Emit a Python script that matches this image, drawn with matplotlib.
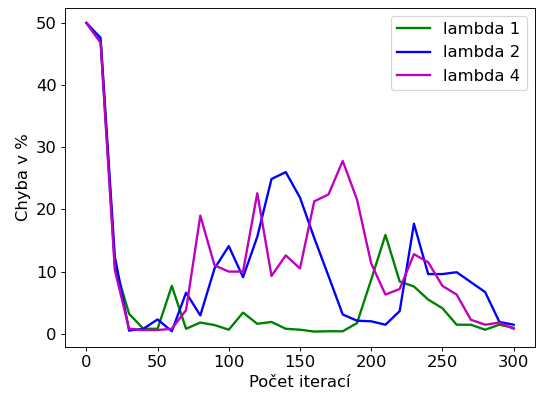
import numpy as np
import matplotlib
matplotlib.use("Agg")
import matplotlib.pyplot as plt

iterations = list(range(0, 301, 10))

lambda_1 = [50.0, 47.0, 11.0, 3.2, 0.8, 0.8, 7.7, 0.8, 1.8, 1.4, 0.65,
            3.4, 1.6, 1.9, 0.8, 0.65, 0.35, 0.4, 0.4, 1.7, 8.7,
            15.9, 8.4, 7.6, 5.5, 4.1, 1.45, 1.45, 0.65, 1.45, 0.95]

lambda_2 = [50.0, 47.6, 12.4, 0.5, 0.8, 2.3, 0.4, 6.6, 2.95, 10.5, 14.1,
            9.1, 15.6, 24.9, 26.0, 21.9, 15.4, 9.3, 3.1, 2.1, 2.0,
            1.45, 3.65, 17.7, 9.6, 9.6, 9.9, 8.3, 6.7, 1.9, 1.45]

lambda_4 = [50.0, 46.8, 10.2, 0.8, 0.6, 0.6, 0.8, 3.8, 19.0, 11.0, 10.0,
            10.0, 22.6, 9.3, 12.6, 10.5, 21.3, 22.4, 27.8, 21.6, 11.3,
            6.3, 7.2, 12.8, 11.5, 7.7, 6.3, 2.25, 1.45, 1.8, 0.8]

series = [("lambda 1", lambda_1, "green"),
          ("lambda 2", lambda_2, "blue"),
          ("lambda 4", lambda_4, "m")]

plt.rcParams["font.size"] = 14

dpi = 84
fig = plt.figure(figsize=(536 / dpi, 394 / dpi), dpi=dpi)
ax = fig.add_axes([65 / 536, 47 / 394, 470 / 536, 339.5 / 394])

for label, values, color in series:
    ax.plot(iterations, values, color=color, linewidth=2, label=label)

ax.set_xlabel("Počet iterací")
ax.set_ylabel("Chyba v %")
ax.set_xticks([0, 50, 100, 150, 200, 250, 300])
ax.set_yticks([0, 10, 20, 30, 40, 50])
ax.legend(loc="upper right")

fig.savefig("out.png", dpi=dpi)
